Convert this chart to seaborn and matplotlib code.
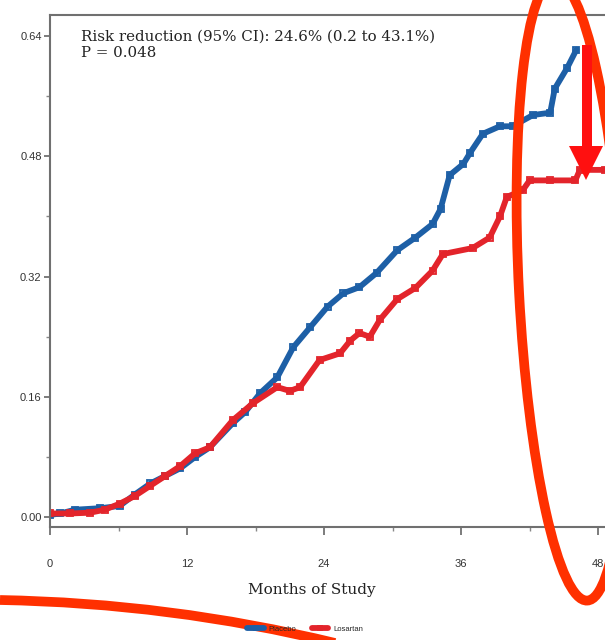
import numpy as np
import pandas as pd
import seaborn as sns
import matplotlib
matplotlib.use("Agg")
import matplotlib.pyplot as plt
from matplotlib.patches import Ellipse, Polygon, PathPatch
from matplotlib.path import Path
from matplotlib.transforms import Affine2D

# Cumulative event proportion by month of follow-up
placebo_months = [0.0, 0.9, 2.2, 4.4, 6.1, 7.4, 8.8, 10.1, 11.4, 12.7, 14.0, 16.0, 17.1,
                  18.4, 19.9, 21.3, 22.8, 24.3, 25.7, 27.1, 28.6, 30.4, 32.0, 33.5, 34.2,
                  35.0, 36.2, 36.8, 37.9, 39.4, 40.5, 42.3, 43.8, 44.2, 45.3, 46.1]
placebo_risk = [0.003, 0.005, 0.010, 0.012, 0.015, 0.030, 0.045, 0.055, 0.065, 0.080, 0.093,
                0.125, 0.140, 0.165, 0.186, 0.226, 0.253, 0.280, 0.298, 0.306, 0.325, 0.355,
                0.372, 0.390, 0.410, 0.455, 0.470, 0.485, 0.510, 0.520, 0.520, 0.535, 0.538,
                0.570, 0.598, 0.622]

losartan_months = [0.0, 1.75, 3.5, 4.8, 6.1, 7.4, 8.8, 10.1, 11.4, 12.7, 14.0, 16.0, 17.8,
                   19.9, 21.0, 21.9, 23.6, 25.4, 26.3, 27.1, 28.0, 28.9, 30.4, 32.0, 33.5,
                   34.4, 37.0, 38.5, 39.4, 40.0, 41.4, 42.0, 43.8, 46.0, 46.4, 48.6]
losartan_risk = [0.005, 0.005, 0.006, 0.010, 0.018, 0.028, 0.042, 0.055, 0.068, 0.085, 0.093,
                 0.129, 0.152, 0.173, 0.168, 0.173, 0.209, 0.218, 0.235, 0.245, 0.240, 0.263,
                 0.290, 0.305, 0.328, 0.350, 0.358, 0.372, 0.400, 0.426, 0.435, 0.448, 0.448,
                 0.448, 0.462, 0.462]

group_names = ["Placebo", "Losartan"]
x_ticks = [0, 12, 24, 36, 48]
y_ticks = [0.00, 0.16, 0.32, 0.48, 0.64]

BLUE = "#1d5fa6"
RED = "#e3242b"
W, H = 605, 640

sns.set_theme(style="ticks")
plt.rcParams["font.family"] = ["Liberation Sans", "DejaVu Sans"]

fig = plt.figure(figsize=(W / 100, H / 100), dpi=100)
# axes placed in pixel terms (top-left origin); right edge runs past the canvas
ax_l, ax_t, ax_r, ax_b = 50, 15, 50 + 49 * 11.42, 527
ax = fig.add_axes([ax_l / W, 1 - ax_b / H, (ax_r - ax_l) / W, (ax_b - ax_t) / H])

df_p = pd.DataFrame({"month": placebo_months, "risk": placebo_risk})
df_l = pd.DataFrame({"month": losartan_months, "risk": losartan_risk})

common = dict(x="month", y="risk", estimator=None, sort=False, ax=ax,
              marker="s", markersize=4.5, markerfacecolor="none",
              markeredgewidth=1.3, linewidth=4.2)
sns.lineplot(data=df_p, color=BLUE, markeredgecolor=BLUE, label=group_names[0], **common)
sns.lineplot(data=df_l, color=RED, markeredgecolor=RED, label=group_names[1], **common)
ax.get_legend().remove()

ax.set_xlim(0, 49)
ax.set_ylim(-0.013, 0.668)
ax.set_xticks(x_ticks)
ax.set_xticklabels([str(t) for t in x_ticks])
ax.set_xticks([6, 18, 30, 42], minor=True)
ax.set_yticks(y_ticks)
ax.set_yticklabels([f"{t:.2f}" for t in y_ticks])
ax.set_yticks([0.08, 0.24, 0.40, 0.56], minor=True)
ax.tick_params(axis="x", which="major", length=6, width=1.2, color="#666666",
               labelsize=8, labelcolor="#333333", pad=17)
ax.tick_params(axis="y", which="major", length=4, width=1.2, color="#666666",
               labelsize=8, labelcolor="#333333", pad=2)
ax.tick_params(which="minor", length=3, width=1.0, color="#888888")
ax.set_xlabel("")
ax.set_ylabel("")
for side in ["left", "bottom", "top", "right"]:
    ax.spines[side].set_color("#707070")
    ax.spines[side].set_linewidth(1.5)


def fx(x):
    return x / W


def fy(y):
    return 1 - y / H


serif = ["DejaVu Serif"]
fig.text(fx(81), fy(30), "Risk reduction (95% CI): 24.6% (0.2 to 43.1%)",
         family=serif, fontsize=10.8, color="#222222", va="top", ha="left")
fig.text(fx(81), fy(46), "P = 0.048", family=serif, fontsize=10.8,
         color="#222222", va="top", ha="left")
fig.text(fx(312), fy(590), "Months of Study", family=serif, fontsize=11,
         color="#222222", ha="center", va="center")

handles = ax.get_lines()[:2]
fig.legend(handles, group_names, loc="center", bbox_to_anchor=(fx(305), fy(629)),
           ncol=2, frameon=False, fontsize=5.5, handlelength=2.2, columnspacing=2.0,
           handletextpad=0.6, markerscale=0.7)

# hand-drawn highlight marks, in pixel coordinates (top-left origin)
pix = Affine2D().scale(1 / W, -1 / H).translate(0, 1) + fig.transFigure
ring = Ellipse((571, 290), 104, 622, angle=-3.0, fill=False, edgecolor="#ff3000",
               linewidth=7, transform=pix, clip_on=False)
fig.add_artist(ring)

arrow = Polygon([(582, 45), (592, 45), (592, 146), (603, 146), (586, 180),
                 (569, 146), (582, 146)], closed=True, facecolor="#ff1010",
                edgecolor="none", transform=pix)
fig.add_artist(arrow)

stroke = Path([(0, 600), (170, 603), (335, 643)], [Path.MOVETO, Path.CURVE3, Path.CURVE3])
fig.add_artist(PathPatch(stroke, fill=False, edgecolor="#ff3000", linewidth=7,
                         capstyle="butt", transform=pix))

fig.savefig("out.png", dpi=100)
